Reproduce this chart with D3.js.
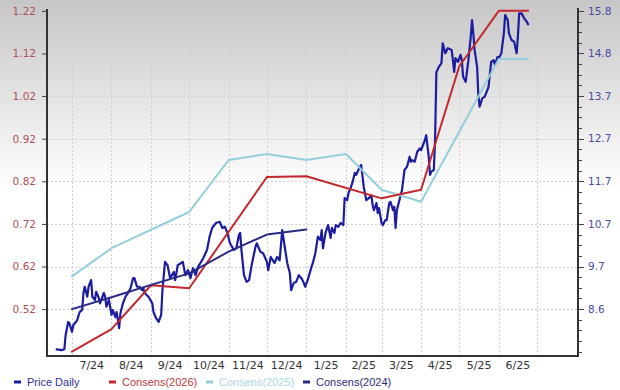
<!DOCTYPE html>
<html>
<head>
<meta charset="utf-8">
<script src="https://cdn.jsdelivr.net/npm/d3@7"></script>
<style>
  html, body { margin: 0; padding: 0; background: #fff; }
  svg { display: block; }
</style>
</head>
<body>
<svg id="chart" width="620" height="390"></svg>
<script>
// ---------------- DATA ----------------
const xTickLabels = ["7/24","8/24","9/24","10/24","11/24","12/24","1/25","2/25","3/25","4/25","5/25","6/25"];
const leftTicks = [0.52, 0.62, 0.72, 0.82, 0.92, 1.02, 1.12, 1.22];
const rightTickLabels = ["8.6","9.7","10.7","11.7","12.7","13.7","14.8","15.8"];

const priceDates = ["2024-06-19","2024-06-23","2024-06-25","2024-06-26","2024-06-28","2024-06-29","2024-07-01","2024-07-02","2024-07-05","2024-07-07","2024-07-09","2024-07-10","2024-07-11","2024-07-13","2024-07-14","2024-07-16","2024-07-17","2024-07-19","2024-07-20","2024-07-22","2024-07-23","2024-07-24","2024-07-26","2024-07-27","2024-07-28","2024-07-30","2024-08-01","2024-08-02","2024-08-04","2024-08-05","2024-08-07","2024-08-08","2024-08-10","2024-08-12","2024-08-14","2024-08-16","2024-08-18","2024-08-19","2024-08-21","2024-08-23","2024-08-25","2024-08-26","2024-08-27","2024-08-30","2024-09-02","2024-09-03","2024-09-05","2024-09-07","2024-09-09","2024-09-10","2024-09-12","2024-09-14","2024-09-16","2024-09-19","2024-09-20","2024-09-22","2024-09-26","2024-09-28","2024-09-30","2024-10-02","2024-10-04","2024-10-06","2024-10-08","2024-10-12","2024-10-15","2024-10-17","2024-10-19","2024-10-22","2024-10-25","2024-10-27","2024-10-29","2024-10-31","2024-11-02","2024-11-05","2024-11-07","2024-11-09","2024-11-10","2024-11-11","2024-11-13","2024-11-15","2024-11-17","2024-11-19","2024-11-22","2024-11-23","2024-11-26","2024-11-28","2024-12-01","2024-12-02","2024-12-04","2024-12-07","2024-12-09","2024-12-11","2024-12-13","2024-12-15","2024-12-17","2024-12-19","2024-12-20","2024-12-22","2024-12-24","2024-12-26","2024-12-28","2024-12-30","2024-12-31","2025-01-02","2025-01-05","2025-01-06","2025-01-08","2025-01-10","2025-01-12","2025-01-13","2025-01-14","2025-01-16","2025-01-18","2025-01-20","2025-01-21","2025-01-23","2025-01-24","2025-01-26","2025-01-28","2025-01-30","2025-01-31","2025-02-02","2025-02-03","2025-02-04","2025-02-06","2025-02-08","2025-02-09","2025-02-12","2025-02-13","2025-02-15","2025-02-17","2025-02-19","2025-02-21","2025-02-22","2025-02-23","2025-02-25","2025-02-26","2025-02-27","2025-03-01","2025-03-02","2025-03-04","2025-03-05","2025-03-07","2025-03-08","2025-03-10","2025-03-11","2025-03-12","2025-03-13","2025-03-15","2025-03-17","2025-03-19","2025-03-21","2025-03-23","2025-03-24","2025-03-25","2025-03-27","2025-03-29","2025-03-31","2025-04-01","2025-04-03","2025-04-04","2025-04-05","2025-04-07","2025-04-08","2025-04-09","2025-04-11","2025-04-12","2025-04-13","2025-04-15","2025-04-17","2025-04-18","2025-04-20","2025-04-22","2025-04-25","2025-04-26","2025-04-27","2025-04-28","2025-04-30","2025-05-02","2025-05-03","2025-05-04","2025-05-06","2025-05-08","2025-05-10","2025-05-11","2025-05-12","2025-05-13","2025-05-15","2025-05-16","2025-05-17","2025-05-19","2025-05-21","2025-05-24","2025-05-26","2025-05-28","2025-05-29","2025-05-31","2025-06-01","2025-06-03","2025-06-05","2025-06-06","2025-06-08","2025-06-09","2025-06-11","2025-06-13","2025-06-15","2025-06-16","2025-06-17","2025-06-19","2025-06-21","2025-06-23","2025-06-24"];
const priceValues = [7.63,7.61,7.63,7.97,8.29,8.26,8.05,8.21,8.33,8.53,8.58,8.99,9.14,8.90,9.14,9.30,8.90,8.82,9.02,8.87,8.74,8.82,8.99,8.90,8.66,8.82,8.46,8.58,8.41,8.53,8.14,8.50,8.74,8.90,8.99,9.11,9.35,9.35,9.14,9.14,9.06,9.11,8.99,8.90,8.74,8.53,8.38,8.29,8.46,9.06,9.74,9.66,9.35,9.50,9.30,9.66,9.74,9.42,9.54,9.35,9.59,9.42,9.62,9.83,10.03,10.35,10.56,10.68,10.71,10.56,10.59,10.44,10.19,10.03,10.07,10.39,10.44,10.03,9.42,9.26,9.30,9.66,10.10,10.19,9.98,9.95,9.74,9.54,9.86,9.71,9.86,9.78,10.51,10.10,9.71,9.47,9.06,9.23,9.26,9.42,9.35,9.23,9.14,9.30,9.62,9.71,9.95,10.35,10.27,10.51,10.07,10.44,10.63,10.32,10.56,10.44,10.63,10.59,10.68,10.63,11.28,11.23,11.40,11.47,11.64,11.89,11.84,12.04,12.08,11.55,11.23,11.28,11.35,11.11,10.99,11.16,10.92,11.04,10.68,10.63,10.75,10.75,11.16,11.19,10.99,11.07,10.56,10.99,11.23,11.47,11.96,12.04,12.28,12.16,12.20,12.16,12.40,12.48,12.44,12.60,12.68,12.80,12.28,11.84,11.92,11.96,12.68,14.32,14.45,14.54,15.02,14.78,14.90,14.86,14.61,14.33,14.66,14.57,14.74,14.61,14.21,14.09,14.57,15.18,15.58,15.26,14.86,14.45,13.73,13.49,13.69,13.73,13.97,14.57,14.61,14.49,14.69,14.66,14.78,15.26,15.70,15.58,15.26,15.10,15.06,14.78,15.18,15.74,15.74,15.62,15.54,15.48];

const cons2026Dates = ["2024-07-01","2024-08-01","2024-09-01","2024-10-01","2024-12-01","2025-01-01","2025-03-01","2025-04-01","2025-05-01","2025-06-01","2025-06-24"];
const cons2026Values = [0.42,0.473,0.576,0.569,0.83,0.832,0.78,0.80,1.09,1.22,1.22];

const cons2025Dates = ["2024-07-01","2024-08-01","2024-10-01","2024-11-01","2024-12-01","2025-01-01","2025-02-01","2025-03-01","2025-04-01","2025-06-01","2025-06-24"];
const cons2025Values = [0.597,0.663,0.748,0.87,0.884,0.87,0.884,0.80,0.772,1.107,1.107];

const cons2024Dates = ["2024-07-01","2024-08-01","2024-09-01","2024-10-01","2024-11-01","2024-12-01","2025-01-01"];
const cons2024Values = [0.52,0.548,0.577,0.604,0.655,0.695,0.707];

const legendLabels = ["Price Daily","Consens(2026)","Consens(2025)","Consens(2024)"];

// ---------------- STYLE / LAYOUT ----------------
const W = 620, H = 390;
const plot = { left: 47, right: 578, top: 10, bottom: 356 };
const colors = {
  price: "#1c1ca0",
  c2026: "#c4282c",
  c2025: "#92cfdb",
  c2024: "#2a2a86"
};
const legendText = ["#2e2e9e", "#c0393b", "#a9d8e0", "#2d2d7a"];

const parse = d3.timeParse("%Y-%m-%d");
const svg = d3.select("#chart");

// background gradient
const defs = svg.append("defs");
const grad = defs.append("linearGradient").attr("id","bg").attr("x1",0).attr("y1",0).attr("x2",0).attr("y2",1);
grad.append("stop").attr("offset","0%").attr("stop-color","#c6c6c6");
grad.append("stop").attr("offset","20%").attr("stop-color","#dedede");
grad.append("stop").attr("offset","49%").attr("stop-color","#ffffff");
grad.append("stop").attr("offset","100%").attr("stop-color","#ffffff");
svg.append("rect").attr("width",W).attr("height",H).attr("fill","url(#bg)");

// scales
const x = d3.scaleTime()
  .domain([parse("2024-07-01"), parse("2025-07-01")])
  .range([72, 537]);

const yL = d3.scaleLinear().domain([0.41, 1.222]).range([plot.bottom, plot.top]);
// right axis is a linear transform of the left axis (8.6 at 0.52, +10.29 per unit)
const toRight = l => 8.6 + (l - 0.52) * 10.29;
const yR = d3.scaleLinear().domain([toRight(0.41), toRight(1.222)]).range([plot.bottom, plot.top]);

// grid
const months = d3.timeMonth.range(parse("2024-07-01"), parse("2025-07-02"));
const grid = svg.append("g").attr("stroke","#cfcfcf").attr("stroke-width",1).attr("stroke-dasharray","2,2");
grid.selectAll("line.v").data(months).join("line")
  .attr("x1", d => Math.round(x(d)) + 0.5).attr("x2", d => Math.round(x(d)) + 0.5)
  .attr("y1", plot.top).attr("y2", plot.bottom);
grid.selectAll("line.h").data(leftTicks).join("line")
  .attr("x1", plot.left).attr("x2", plot.right)
  .attr("y1", d => Math.round(yL(d)) + 0.5).attr("y2", d => Math.round(yL(d)) + 0.5);

// lines
const clip = defs.append("clipPath").attr("id","clip").append("rect")
  .attr("x", plot.left).attr("y", plot.top - 2).attr("width", plot.right - plot.left).attr("height", plot.bottom - plot.top + 2);

const lineL = d3.line().x(d => x(d[0])).y(d => yL(d[1]));
const lineR = d3.line().x(d => x(d[0])).y(d => yR(d[1]));
const zip = (ds, vs) => ds.map((d, i) => [parse(d), vs[i]]);

const lines = svg.append("g").attr("clip-path","url(#clip)").attr("fill","none")
  .attr("stroke-linejoin","round").attr("stroke-linecap","round");
lines.append("path").attr("d", lineR(zip(priceDates, priceValues)))
  .attr("stroke", colors.price).attr("stroke-width", 2.2);
lines.append("path").attr("d", lineL(zip(cons2025Dates, cons2025Values)))
  .attr("stroke", colors.c2025).attr("stroke-width", 2);
lines.append("path").attr("d", lineL(zip(cons2026Dates, cons2026Values)))
  .attr("stroke", colors.c2026).attr("stroke-width", 2);
lines.append("path").attr("d", lineL(zip(cons2024Dates, cons2024Values)))
  .attr("stroke", colors.c2024).attr("stroke-width", 2);

// left axis
const axL = svg.append("g").attr("transform", `translate(${plot.left},0)`)
  .call(d3.axisLeft(yL).tickValues(leftTicks).tickSize(5).tickPadding(6).tickFormat(d3.format(".2f")));
axL.select(".domain").remove();
axL.selectAll(".tick line").attr("stroke","#444");
axL.selectAll(".tick text").attr("fill","#b0505a").attr("font-family","DejaVu Sans, Verdana, sans-serif").attr("font-size","10.5px");

// right axis (labels aligned to the left grid)
const axR = svg.append("g").attr("transform", `translate(${plot.right},0)`);
const minor = d3.range(0.42, 1.2201, 0.025).filter(v => !leftTicks.some(t => Math.abs(t - v) < 1e-6));
axR.selectAll("line.minor").data(minor).join("line")
  .attr("x1", 0).attr("x2", 4).attr("y1", d => Math.round(yL(d)) + 0.5).attr("y2", d => Math.round(yL(d)) + 0.5)
  .attr("stroke","#444");
axR.selectAll("line.major").data(leftTicks).join("line")
  .attr("x1", 0).attr("x2", 6).attr("y1", d => Math.round(yL(d)) + 0.5).attr("y2", d => Math.round(yL(d)) + 0.5)
  .attr("stroke","#444");
axR.selectAll("text").data(leftTicks).join("text")
  .attr("x", 10).attr("y", d => yL(d)).attr("dy","0.35em")
  .attr("fill","#4a4a9e").attr("font-family","DejaVu Sans, Verdana, sans-serif").attr("font-size","10.5px")
  .text((d, i) => rightTickLabels[i]);

// frame
const frame = svg.append("g").attr("stroke","#333").attr("stroke-width",2).attr("fill","none");
frame.append("line").attr("x1", plot.left).attr("x2", plot.left).attr("y1", plot.top - 1).attr("y2", plot.bottom + 1);
frame.append("line").attr("x1", plot.right).attr("x2", plot.right).attr("y1", plot.top - 2).attr("y2", plot.bottom + 1);
frame.append("line").attr("x1", plot.left - 1).attr("x2", plot.right + 1).attr("y1", plot.bottom).attr("y2", plot.bottom);

// x labels (mid-month)
const labelMonths = months.slice(0, xTickLabels.length);
svg.append("g").selectAll("text").data(labelMonths).join("text")
  .attr("x", d => (x(d) + x(d3.timeMonth.offset(d, 1))) / 2)
  .attr("y", 369)
  .attr("text-anchor","middle")
  .attr("fill","#333")
  .attr("font-family","DejaVu Sans, Verdana, sans-serif").attr("font-size","11px")
  .text((d, i) => xTickLabels[i]);

// legend
const legendX = [14, 109, 206, 303];
const legendMarker = [colors.price, colors.c2026, colors.c2025, colors.c2024];
const lg = svg.append("g");
legendLabels.forEach((t, i) => {
  lg.append("rect").attr("x", legendX[i]).attr("y", 380.5).attr("width", 7).attr("height", 3)
    .attr("fill", legendMarker[i]);
  lg.append("text").attr("x", legendX[i] + 13).attr("y", 385.5)
    .attr("fill", legendText[i])
    .attr("font-family","Liberation Sans, Arial, sans-serif").attr("font-size","11px")
    .text(t);
});
</script>
</body>
</html>
